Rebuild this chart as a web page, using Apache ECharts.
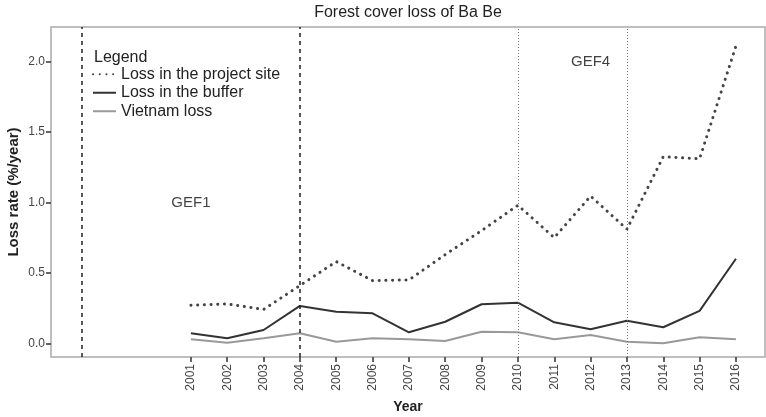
<!DOCTYPE html>
<html>
<head>
<meta charset="utf-8">
<script src="https://cdn.jsdelivr.net/npm/echarts@6/dist/echarts.min.js"></script>
<style>
    html, body { margin: 0; padding: 0; background: #fff; }
    #chart { width: 766px; height: 417px; }
</style>
</head>
<body>
<div id="chart"></div>
<script>
const years = [2001, 2002, 2003, 2004, 2005, 2006, 2007, 2008, 2009, 2010, 2011, 2012, 2013, 2014, 2015, 2016];
const projectSite = [0.27, 0.28, 0.24, 0.41, 0.58, 0.445, 0.45, 0.63, 0.80, 0.98, 0.75, 1.045, 0.81, 1.325, 1.31, 2.11];
const buffer = [0.071, 0.035, 0.094, 0.265, 0.224, 0.213, 0.078, 0.153, 0.277, 0.288, 0.149, 0.10, 0.16, 0.114, 0.23, 0.60];
const vietnam = [0.028, 0.004, 0.035, 0.071, 0.011, 0.035, 0.028, 0.016, 0.082, 0.078, 0.028, 0.059, 0.011, 0.0, 0.043, 0.028];
const yTicks = [0, 0.5, 1.0, 1.5, 2.0];
const dashedLines = [1998, 2004];
const dottedLines = [2010, 2013];
const periodLabels = [['GEF1', 2001, 1.0], ['GEF4', 2012, 2.0]];

const font = 'Liberation Sans, Arial, sans-serif';
const pairs = vals => years.map((y, i) => [y, vals[i]]);

const chart = echarts.init(document.getElementById('chart'), null, { renderer: 'canvas' });

chart.setOption({
    animation: false,
    textStyle: { fontFamily: font },
    title: {
        text: 'Forest cover loss of Ba Be',
        left: 408,
        top: 5,
        padding: 0,
        textAlign: 'center',
        textStyle: { fontSize: 16, fontWeight: 'normal', color: '#222', fontFamily: font }
    },
    grid: {
        left: 51, right: 1, top: 27, bottom: 60,
        outerBoundsMode: 'none',
        containLabel: false,
        show: true, borderColor: '#aaa', borderWidth: 1.5, backgroundColor: '#fff'
    },
    legend: {
        orient: 'vertical',
        left: 92,
        top: 65,
        padding: 0,
        itemWidth: 23,
        itemHeight: 10,
        itemGap: 0,
        itemStyle: { opacity: 0 },
        textStyle: { fontSize: 16, lineHeight: 18.5, color: '#222', fontFamily: font },
        data: ['Loss in the project site', 'Loss in the buffer', 'Vietnam loss']
    },
    graphic: [{
        type: 'text', left: 94, top: 50,
        style: { text: 'Legend', fontSize: 16, fill: '#222', fontFamily: font }
    }],
    xAxis: {
        type: 'value',
        min: 1997.15,
        max: 2016.8,
        name: 'Year',
        nameLocation: 'middle',
        nameGap: 43,
        nameMoveOverlap: false,
        nameTextStyle: { fontSize: 14, fontWeight: 'bold', color: '#222', fontFamily: font },
        axisLine: { show: false, onZero: false },
        splitLine: { show: false },
        axisTick: { show: true, customValues: years, length: 5, lineStyle: { color: '#333', width: 1.5 } },
        axisLabel: {
            customValues: years, rotate: 90, margin: 7,
            fontSize: 12, color: '#444', fontFamily: font,
            formatter: v => String(Math.round(v))
        }
    },
    yAxis: {
        type: 'value',
        min: -0.0975,
        max: 2.246,
        name: 'Loss rate (%/year)',
        nameLocation: 'middle',
        nameGap: 30,
        nameMoveOverlap: false,
        nameTextStyle: { fontSize: 15, fontWeight: 'bold', color: '#222', fontFamily: font },
        axisLine: { show: false, onZero: false },
        splitLine: { show: false },
        axisTick: { show: true, customValues: yTicks, length: 5, lineStyle: { color: '#333', width: 1.5 } },
        axisLabel: {
            customValues: yTicks, margin: 6,
            fontSize: 12, color: '#444', fontFamily: font,
            formatter: v => v.toFixed(1)
        }
    },
    series: [
        {
            name: 'Loss in the project site',
            type: 'line',
            data: pairs(projectSite),
            symbol: 'none',
            itemStyle: { color: '#444' },
            lineStyle: { color: '#444', width: 3, type: [0.1, 6.6], cap: 'round' },
            markLine: {
                silent: true, symbol: 'none', label: { show: false },
                data: dashedLines.map(x => ({ xAxis: x, lineStyle: { color: '#222', width: 1.5, type: [4, 4] } }))
                    .concat(dottedLines.map(x => ({ xAxis: x, lineStyle: { color: '#777', width: 1, type: [1, 2] } })))
            }
        },
        {
            name: 'Loss in the buffer',
            type: 'line',
            data: pairs(buffer),
            symbol: 'none',
            itemStyle: { color: '#333' },
            lineStyle: { color: '#333', width: 2 }
        },
        {
            name: 'Vietnam loss',
            type: 'line',
            data: pairs(vietnam),
            symbol: 'none',
            itemStyle: { color: '#999' },
            lineStyle: { color: '#999', width: 2 }
        },
        {
            type: 'scatter',
            data: periodLabels.map(p => ({ value: [p[1], p[2]], name: p[0] })),
            symbolSize: 1,
            itemStyle: { color: 'rgba(0,0,0,0)' },
            silent: true,
            label: {
                show: true, position: 'inside', formatter: '{b}',
                fontSize: 15, color: '#111', fontFamily: font
            }
        }
    ]
});
</script>
</body>
</html>
